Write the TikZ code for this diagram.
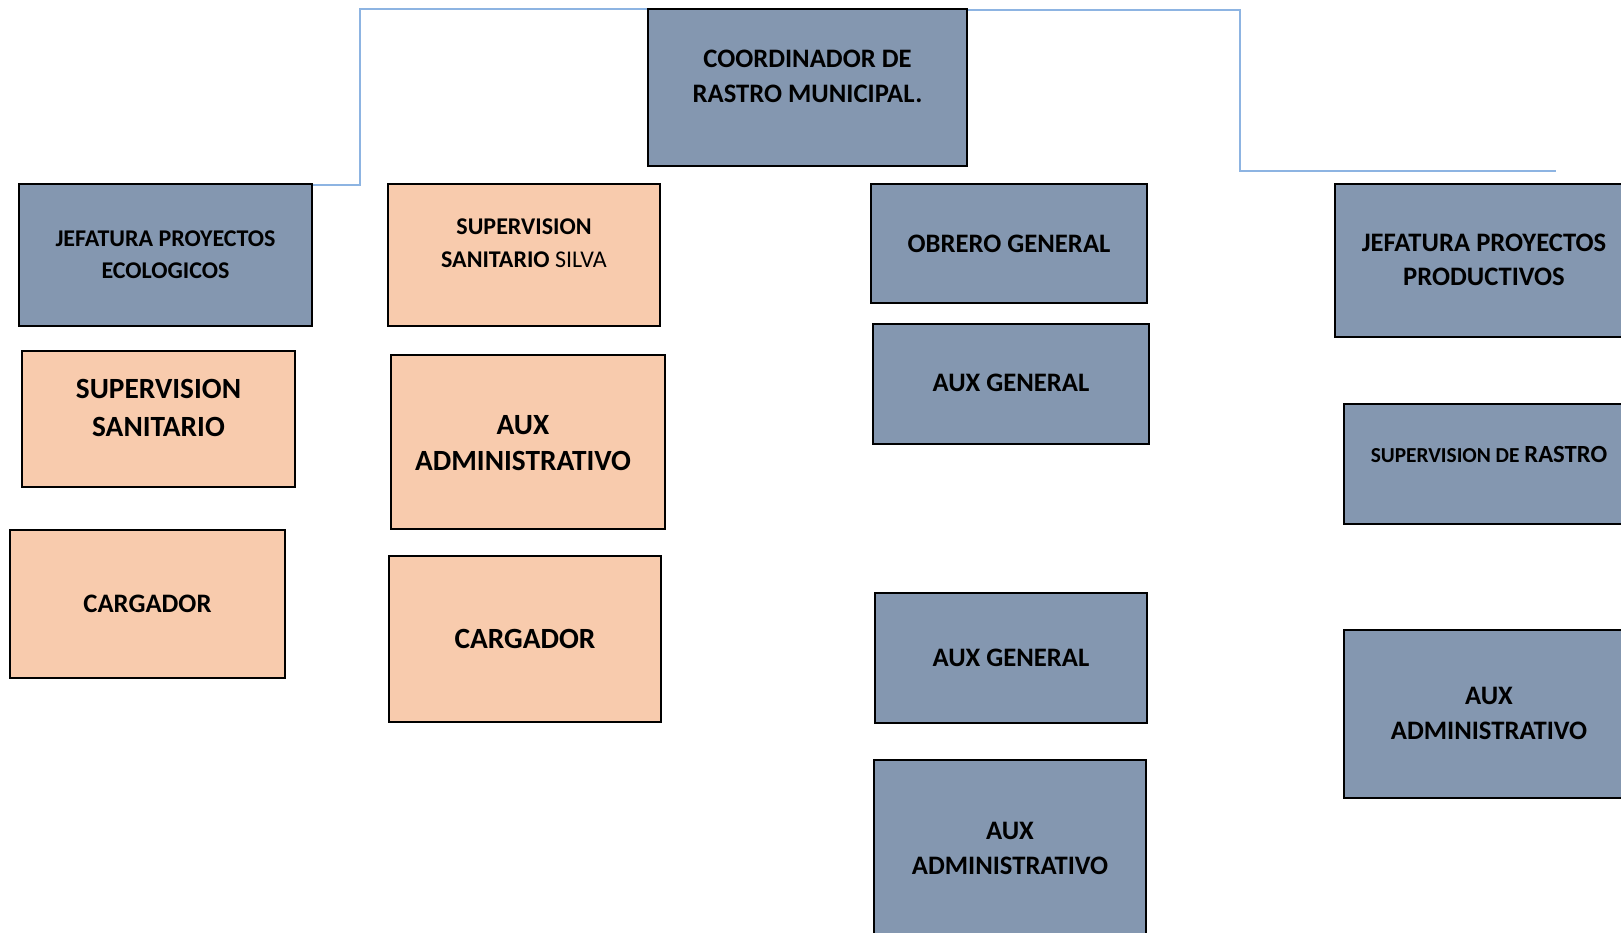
\documentclass[tikz,border=0pt]{standalone}
\usepackage{fontspec}
\setmainfont{Carlito}
\definecolor{grayblue}{HTML}{8497B0}
\definecolor{peach}{HTML}{F8CBAD}
\definecolor{linkblue}{HTML}{8DB4E2}
\newcommand{\fs}[2]{\fontsize{#1}{#2}\selectfont}
\tikzset{
  bluebox/.style 2 args={draw=black, fill=grayblue, line width=#1, minimum width=#2*0.75pt},
  peachbox/.style 2 args={draw=black, fill=peach, line width=#1, minimum width=#2*0.75pt},
  hgt/.style={minimum height=#1*0.75pt},
  txt/.style 2 args={inner sep=0pt, align=center, font=\bfseries\fs{#1}{#2}},
  conn/.style={draw=linkblue, line width=1pt}
}
\begin{document}
\begin{tikzpicture}[x=0.75pt, y=-0.75pt]
            \useasboundingbox (0,0) rectangle (1621,932);

            % Top box
            \node[bluebox={1.6pt}{319}, hgt=157] (coord) at (807.5,87.5) {};
            \node[txt={20}{26.25}] (coordtxt) at (807.5,76.5) {COORDINADOR DE\\RASTRO MUNICIPAL.};

            % First column
            \node[bluebox={1.6pt}{293}, hgt=142] (jefeco) at (165.5,255) {};
            \node[txt={18}{24}] (jefecotxt) at (165.5,255) {JEFATURA PROYECTOS\\ECOLOGICOS};
            \node[peachbox={1.6pt}{273}, hgt=136] (supsan) at (158.5,419) {};
            \node[txt={22}{28.5}] (supsantxt) at (158.5,408) {SUPERVISION\\SANITARIO};
            \node[peachbox={0.8pt}{275}, hgt=148] (carga) at (147.5,604) {};
            \node[txt={20}{24}] (cargatxt) at (147.5,604) {CARGADOR};

            % Second column
            \node[peachbox={1.6pt}{272}, hgt=142] (supsil) at (524,255) {};
            \node[txt={18}{24.4}] (supsiltxt) at (524,243) {SUPERVISION\\SANITARIO \mdseries SILVA};
            \node[peachbox={0.8pt}{274}, hgt=174] (auxadm) at (528,442) {};
            \node[txt={22}{27}] (auxadmtxt) at (523,443) {AUX\\ADMINISTRATIVO};
            \node[peachbox={1.6pt}{272}, hgt=166] (cargb) at (525,639) {};
            \node[txt={22}{24}] (cargbtxt) at (525,639) {CARGADOR};

            % Third column
            \node[bluebox={0.8pt}{276}, hgt=119] (obrero) at (1009,243.5) {};
            \node[txt={20}{24}] (obrerotxt) at (1009,244) {OBRERO GENERAL};
            \node[bluebox={0.8pt}{276}, hgt=120] (auxgen) at (1011,384) {};
            \node[txt={20}{24}] (auxgentxt) at (1011,382.5) {AUX GENERAL};
            \node[bluebox={0.8pt}{272}, hgt=130] (auxgenb) at (1011,658) {};
            \node[txt={20}{24}] (auxgenbtxt) at (1011,657.5) {AUX GENERAL};
            \node[bluebox={0.8pt}{272}, hgt=176] (auxadmb) at (1010,848) {};
            \node[txt={20}{26}] (auxadmbtxt) at (1010,848.5) {AUX\\ADMINISTRATIVO};

            % Fourth column
            \node[bluebox={1.6pt}{298}, hgt=153] (jefprod) at (1484,260.5) {};
            \node[txt={20}{25.5}] (jefprodtxt) at (1484,260) {JEFATURA PROYECTOS\\PRODUCTIVOS};
            \node[bluebox={1.6pt}{290}, hgt=120] (suprast) at (1489,464) {};
            \node[txt={16}{20}] (suprasttxt) at (1489,454) {SUPERVISION DE \fs{18.5}{20}RASTRO};
            \node[bluebox={1.6pt}{290}, hgt=168] (auxadmr) at (1489,714) {};
            \node[txt={20}{26}] (auxadmrtxt) at (1489,713.5) {AUX\\ADMINISTRATIVO};

            % Lines from the top box
            \coordinate (rbend) at (1240,171);
            \coordinate (prodend) at (1556,171);
            \draw[conn] (jefeco.north east) ++(0,2) -- ++(47,0) |- ([yshift=-0.75pt]coord.north west);
            \draw[conn] ([yshift=-1.5pt]coord.north east) -| (rbend) -- (prodend);
        \end{tikzpicture}
\end{document}
